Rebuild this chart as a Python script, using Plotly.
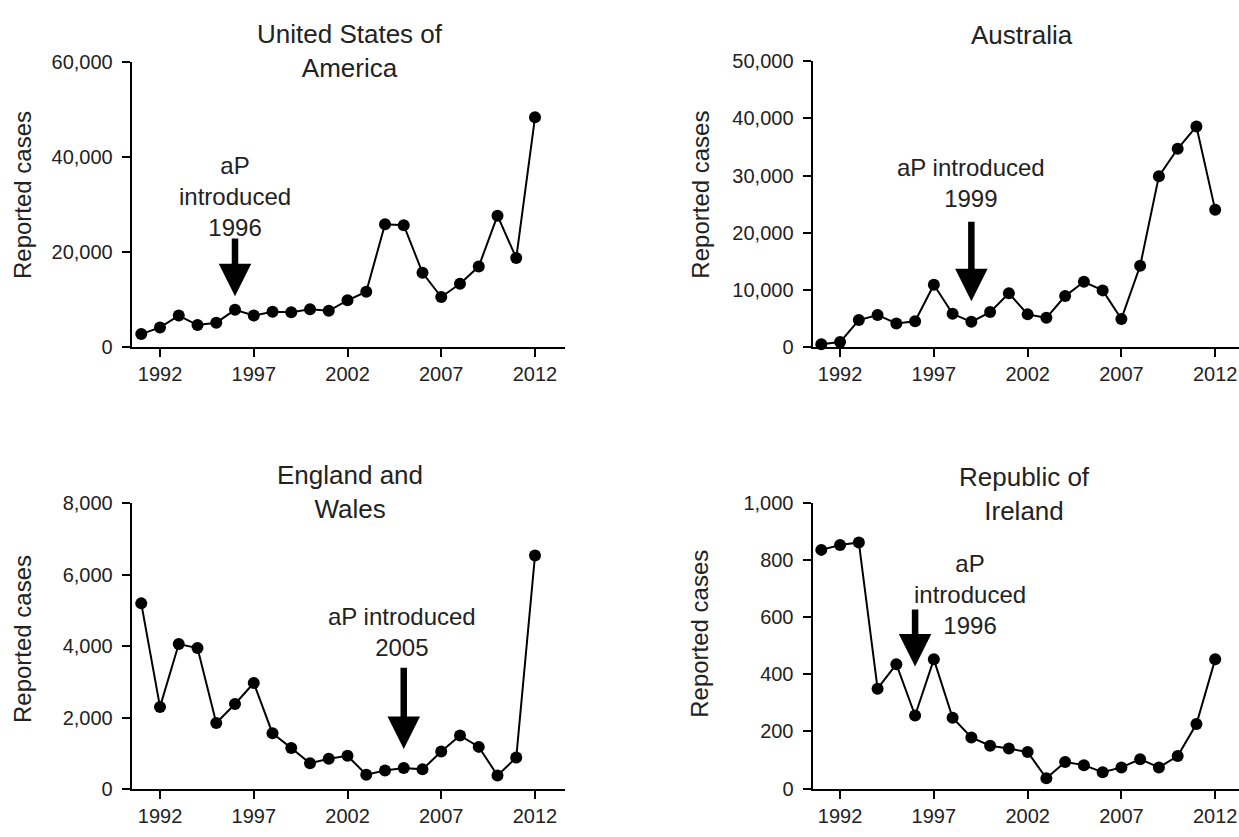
import plotly.graph_objects as go

years = list(range(1991, 2013))

usa_cases = [2700, 4100, 6600, 4600, 5100, 7800, 6600, 7400, 7300, 7900, 7600,
             9800, 11600, 25800, 25600, 15600, 10500, 13300, 16900, 27600, 18700, 48300]
aus_cases = [450, 850, 4700, 5600, 4100, 4500, 10900, 5800, 4400, 6100, 9400,
             5700, 5100, 8900, 11400, 9900, 4900, 14200, 29900, 34700, 38600, 24000]
eng_cases = [5200, 2300, 4060, 3950, 1850, 2380, 2970, 1560, 1150, 720, 850,
             930, 400, 520, 590, 550, 1050, 1500, 1180, 380, 880, 6540]
irl_cases = [837, 854, 863, 350, 436, 256, 453, 248, 179, 150, 140,
             128, 36, 93, 82, 57, 74, 103, 74, 114, 226, 453]

panel_titles = ["United States of<br>America", "Australia", "England and<br>Wales", "Republic of<br>Ireland"]
y_max = [60000, 50000, 8000, 1000]
y_dtick = [20000, 10000, 2000, 200]
intro_year = [1996, 1999, 2005, 1996]
intro_text = ["aP<br>introduced<br>1996", "aP introduced<br>1999", "aP introduced<br>2005", "aP<br>introduced<br>1996"]
arrow_tail = [23100, 22200, 3440, 633]
arrow_tip = [10650, 8000, 1120, 428]
text_x = [1996, 1999, 2004.9, 1998.95]
text_y = [31640, 28640, 4390, 681]
x_ticks = [1992, 1997, 2002, 2007, 2012]

series = [usa_cases, aus_cases, eng_cases, irl_cases]

FONT = "Liberation Sans, Arial, sans-serif"
TXT = "#222222"

W, H = 1239, 837


def px(xs):
    return xs / W


def py(ys):
    return 1 - ys / H


fig = go.Figure()

x_domains = [[px(131.7), px(565)], [px(812.5), 1.0], [px(131.7), px(565)], [px(812.5), 1.0]]
y_domains = [[py(345), py(52)], [py(345), py(51.7)], [py(799), py(505.7)], [py(798.5), py(505.7)]]
x_ranges = [[1990.49, 2013.6], [1990.53, 2013.27], [1990.49, 2013.6], [1990.53, 2013.27]]

annotations = []
for i in range(4):
    ax_id = "" if i == 0 else str(i + 1)
    xa = "x" + ax_id
    ya = "y" + ax_id
    fig.add_trace(go.Scatter(
        x=years, y=series[i], mode="lines+markers",
        line=dict(color="black", width=2),
        marker=dict(color="black", size=12),
        xaxis=xa, yaxis=ya, cliponaxis=False, showlegend=False,
    ))
    axis_common = dict(showline=True, linecolor="black", linewidth=2,
                       ticks="outside", ticklen=8, tickwidth=2, tickcolor="black",
                       showgrid=False, zeroline=False,
                       tickfont=dict(family=FONT, size=20, color=TXT))
    fig.update_layout(**{
        "xaxis" + ax_id: dict(domain=x_domains[i], range=x_ranges[i], tickvals=x_ticks,
                              anchor=ya, **axis_common),
        "yaxis" + ax_id: dict(domain=y_domains[i], range=[0, y_max[i]], dtick=y_dtick[i],
                              tickformat=",d", anchor=xa, ticklabelstandoff=5,
                              **axis_common),
    })
    annotations.append(dict(
        x=intro_year[i], y=arrow_tip[i], ax=intro_year[i], ay=arrow_tail[i],
        xref=xa, yref=ya, axref=xa, ayref=ya, text="", showarrow=True,
        arrowhead=2, arrowsize=1.0, arrowwidth=6.5, arrowcolor="black",
    ))
    annotations.append(dict(
        x=text_x[i], y=text_y[i], xref=xa, yref=ya,
        text=intro_text[i], showarrow=False, xanchor="center", yanchor="middle",
        font=dict(family=FONT, size=24, color=TXT), align="center",
    ))

title_pos = [(px(349.8), py(41.5)), (px(1022), py(25)),
             (px(349.8), py(493.5)), (px(1024.8), py(496))]
for i in range(4):
    annotations.append(dict(
        x=title_pos[i][0], y=title_pos[i][1], xref="paper", yref="paper",
        text=panel_titles[i], showarrow=False, xanchor="center", yanchor="middle",
        font=dict(family=FONT, size=26, color=TXT), align="center",
    ))

ytitle_pos = [(px(22), py(189)), (px(699.6), py(189)),
              (px(22), py(645)), (px(699.6), py(640))]
for i in range(4):
    annotations.append(dict(
        x=ytitle_pos[i][0], y=ytitle_pos[i][1], xref="paper", yref="paper",
        text="Reported cases", showarrow=False, textangle=-90,
        xanchor="center", yanchor="middle",
        font=dict(family=FONT, size=24, color=TXT),
    ))

fig.update_layout(
    width=W, height=H, margin=dict(l=0, r=0, t=0, b=0),
    paper_bgcolor="white", plot_bgcolor="white",
    annotations=annotations,
    hovermode=False,
)

fig.write_html(
    "out.html",
    config={"displayModeBar": False, "staticPlot": True},
    post_script="document.body.style.margin='0';document.body.style.overflow='hidden';",
)
